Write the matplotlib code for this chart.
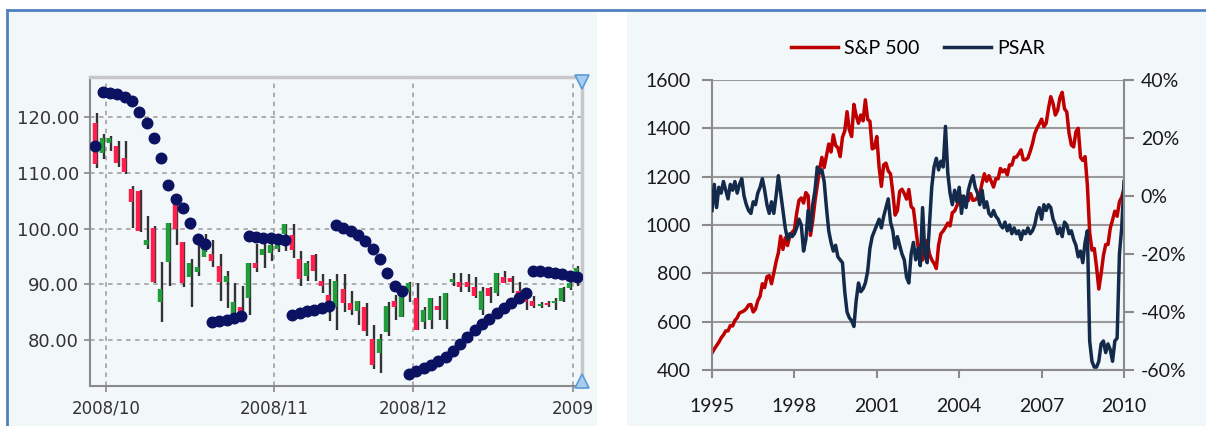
import numpy as np
import matplotlib.pyplot as plt
from matplotlib.patches import Rectangle
from matplotlib.lines import Line2D
from matplotlib.ticker import FuncFormatter

# ---- left panel: daily bars 2008/09/29 .. 2009/01/02 ----
opens = [119, 113.6, 115.4, 114.8, 112.7, 107.1, 106.8, 97.0, 100.2, 86.8,
         94, 104.7, 97.6, 91.3, 92.2, 95, 95.4, 93.3, 90.4, 84,
         85.9, 87.5, 93.9, 95.2, 95.7, 96.4, 99.1, 98.8, 94.5, 91.6,
         95.2, 90.7, 88.2, 85.9, 89.2, 86.6, 85.2, 85.9, 80.2, 77.7,
         81.5, 87.1, 84.1, 88.6, 87.5, 83.2, 83.6, 86.2, 83.6, 90.4,
         90.4, 90.4, 89.5, 85.4, 89.3, 88.4, 91.3, 91.2, 88.9, 88,
         87.1, 86.1, 86.7, 86.6, 87.1, 89.3, 90.7]
closes = [111.6, 116.3, 116.3, 111.8, 110.1, 104.7, 99.6, 97.9, 90.5, 89.2,
          101.1, 99.9, 90.3, 93.8, 93.1, 98, 94.3, 90.4, 91.6, 86.8,
          83.8, 93.9, 93, 96.3, 97, 97.4, 100.9, 96.1, 91, 93.9,
          92.5, 89.8, 85.7, 90.7, 86.6, 85.5, 87.1, 81.6, 75.5, 80.2,
          86.2, 86.0, 88.9, 90.2, 81.8, 85.4, 87.5, 85.4, 88.4, 91,
          89.5, 89.6, 88, 88.9, 88, 92, 90.2, 90.4, 88, 86.8,
          86.2, 86.5, 86.3, 87.1, 89.3, 90.2, 93]
highs = [120.8, 117, 116.6, 115.7, 115.7, 107.7, 106.9, 102.3, 100.4, 94,
         101.1, 105.4, 97.6, 94.6, 99, 99.1, 98, 95.5, 92.5, 90.2,
         89.8, 93.9, 97.2, 98, 97.9, 98.3, 100.9, 100.9, 96, 94.3,
         95.5, 91.8, 91, 91.8, 91.8, 88.9, 87.1, 86.6, 82.7, 81.2,
         86.9, 88.2, 88.9, 90.5, 90.2, 85.9, 87.5, 88, 88.4, 92.1,
         92.1, 91.8, 91.3, 89.5, 89.6, 92, 92.5, 91.6, 90.5, 88.6,
         88, 86.9, 87, 87.5, 89.5, 90.7, 93.4]
lows = [110.9, 112.5, 113.9, 111, 109.8, 100.2, 99.4, 96.4, 90.2, 83.3,
        89.8, 97, 89.5, 86, 91.5, 95.8, 93.1, 87.1, 85.7, 84,
        83.6, 84.5, 92.3, 93, 94.3, 95.8, 96, 94.8, 89.8, 90.7,
        90.7, 88.4, 83.5, 81.8, 85, 84.6, 82.8, 80.7, 74.8, 74.1,
        80.7, 83.6, 84.1, 86.8, 81.8, 82.1, 82.1, 83.6, 82.1, 89.8,
        88.6, 88.6, 87.5, 84.5, 86.6, 87.9, 90.2, 88.4, 87.3, 85.4,
        85.7, 85.8, 86, 85.4, 86.8, 89, 89.8]
sar = [114.8,
       124.6, 124.3, 124.1, 123.7, 122.9, 121.0, 119.0, 116.2, 112.6, 107.9,
       105.3, 103.8, 101.1, 98.2, 97.3,
       83.3, 83.5, 83.7, 84.0, 84.3,
       98.7, 98.6, 98.4, 98.3, 98.1, 97.9,
       84.6, 84.9, 85.2, 85.5, 85.8, 86.1,
       100.7, 100.2, 99.6, 98.8, 97.8, 96.4, 94.5, 92.0, 89.8, 88.8,
       74.0, 74.5, 75.0, 75.5, 76.2, 77.0, 78.0, 79.3, 80.6, 81.8, 82.9,
       83.9, 84.8, 85.7, 86.6, 87.5, 88.4,
       92.5, 92.4, 92.3, 92.1, 91.9, 91.6, 91.3]
month_labels = ['2008/10', '2008/11', '2008/12', '2009']
days_in_month = [2, 23, 19, 22, 1]   # trading days: Sep(tail), Oct, Nov, Dec, Jan

# ---- right panel: monthly, Jan 1995 .. Jan 2010 ----
spx = [470, 487, 501, 515, 533, 545, 562, 562, 584, 582, 605, 616,
       636, 640, 645, 654, 669, 671, 640, 652, 687, 705, 757, 741,
       786, 791, 757, 801, 848, 885, 954, 899, 947, 915, 955, 970,
       980, 1049, 1102, 1112, 1091, 1134, 1121, 957, 1017, 1099, 1164, 1229,
       1280, 1238, 1286, 1335, 1302, 1373, 1329, 1320, 1283, 1363, 1389, 1469,
       1394, 1366, 1499, 1452, 1421, 1455, 1431, 1518, 1437, 1429, 1315, 1320,
       1366, 1240, 1160, 1249, 1256, 1224, 1211, 1134, 1041, 1060, 1139, 1148,
       1130, 1107, 1147, 1076, 1067, 990, 912, 916, 855, 886, 936, 880,
       856, 841, 820, 917, 964, 975, 990, 1008, 996, 1051, 1058, 1080,
       1100, 1120, 1106, 1100, 1101, 1130, 1102, 1104, 1115, 1130, 1174, 1212,
       1181, 1204, 1181, 1157, 1192, 1191, 1234, 1220, 1229, 1207, 1249, 1248,
       1280, 1281, 1295, 1311, 1270, 1270, 1277, 1304, 1336, 1378, 1401, 1418,
       1438, 1407, 1421, 1482, 1531, 1503, 1455, 1474, 1527, 1549, 1481, 1468,
       1379, 1331, 1323, 1386, 1400, 1280, 1267, 1283, 1165, 969, 896, 903,
       826, 735, 798, 873, 919, 919, 987, 1021, 1057, 1036, 1096, 1115,
       1150]
psar = [-5, 4, -4, 3, 1, 5, 2, -1, 4, 2, 5, 1,
        4, 6, 0, -3, -5, -6, -2, -3, 1, 3, 6, 2,
        -3, -6, -2, -6, 0, 7, 1, -5, -11, -15, -13, -14,
        -13, -11, -8, -10, -19, -15, -5, -12, -3, 2, 10, 8,
        9, 5, -4, -12, -16, -19, -17, -21, -22, -23, -33, -40,
        -42, -43, -45, -36, -30, -33, -32, -30, -26, -18, -14, -12,
        -10, -8, -11, -7, -4, -1, -9, -12, -18, -14, -17, -20,
        -22, -28, -30, -20, -16, -22, -18, -24, -4, -20, -23, -10,
        3, 10, 13, 9, 12, 10, 24, 8, 1, -3, 2, -2,
        3, -6, 0, -4, 2, 5, 7, 3, 1, -3, 2, -4,
        -2, -6, -7, -5, -7, -8, -10, -11, -9, -12, -10, -13,
        -11, -13, -12, -15, -12, -13, -11, -13, -12, -10, -6, -4,
        -8, -3, -5, -3, -4, -8, -10, -13, -11, -14, -9, -10,
        -13, -12, -15, -17, -21, -19, -23, -16, -12, -50, -57, -59,
        -59, -57, -51, -50, -54, -51, -53, -57, -50, -49, -20, -11,
        5]
years = [1995, 1998, 2001, 2004, 2007, 2010]

W, H = 1206, 426
fig = plt.figure(figsize=(W / 100, H / 100), dpi=100)
fig.patch.set_facecolor('white')
panel_bg = '#f2f7fa'
fig.add_artist(Rectangle((7 / W, 0), 590 / W, 416 / H, transform=fig.transFigure,
                         facecolor=panel_bg, edgecolor='none', zorder=0))
fig.add_artist(Rectangle((627 / W, 0), 579 / W, 416 / H, transform=fig.transFigure,
                         facecolor=panel_bg, edgecolor='none', zorder=0))
fig.add_artist(Line2D([7 / W, 7 / W], [0, 416 / H], transform=fig.transFigure,
                      color='#4f81bd', lw=2))
fig.add_artist(Line2D([7 / W, 1], [416 / H, 416 / H], transform=fig.transFigure,
                      color='#4f81bd', lw=2))

# ---------------- left chart ----------------
ax1 = fig.add_axes([90 / W, 40 / H, 492 / W, 309 / H])
ax1.set_facecolor(panel_bg)
idx = np.arange(len(opens))
o = np.array(opens); c = np.array(closes)
col = np.where(c >= o, '#1f9e3a', '#ff1f4f')
ax1.vlines(idx + 0.18, lows, highs, color='#333333', lw=1.7, zorder=3)
ax1.vlines(idx - 0.12, np.minimum(o, c), np.maximum(o, c), color=col, lw=3.2, zorder=4)
ax1.plot(idx, sar, 'o', color='#0c1262', ms=7.6, zorder=5)

ax1.set_xlim(-0.75, 66.7)
ax1.set_ylim(71.8, 127.2)
ax1.set_yticks([80, 90, 100, 110, 120])
ax1.yaxis.set_major_formatter(FuncFormatter(lambda v, p: '%.2f' % v))
ticks = np.cumsum(days_in_month)[:-1] - 0.5
ax1.set_xticks(ticks)
ax1.set_xticklabels(month_labels)
ax1.grid(True, color='#a8a8a8', ls=(0, (2.5, 2.5)), lw=1.3)
ax1.tick_params(axis='both', colors='#888888', labelcolor='#333333', length=4, width=1.2,
                labelsize=12)
ax1.tick_params(axis='y', labelsize=13, pad=4)
ax1.tick_params(axis='x', pad=6)
for s in ['left', 'bottom']:
    ax1.spines[s].set_color('#8a8a8a')
    ax1.spines[s].set_linewidth(1.5)
for s in ['top', 'right']:
    ax1.spines[s].set_color('#c8c8c8')
    ax1.spines[s].set_linewidth(2.5)
# slider handles
ax1.plot([1.0], [0.985], marker='v', ms=10, color='#a9cdf0', mec='#5b9bd5', mew=1.2,
         transform=ax1.transAxes, clip_on=False, zorder=6)
ax1.plot([1.0], [0.015], marker='^', ms=10, color='#a9cdf0', mec='#5b9bd5', mew=1.2,
         transform=ax1.transAxes, clip_on=False, zorder=6)

# ---------------- right chart ----------------
ax2 = fig.add_axes([712 / W, 56 / H, 412 / W, 290 / H])
ax2.set_facecolor(panel_bg)
t = 1995 + np.arange(len(spx)) / 12.0
l1, = ax2.plot(t, spx, color='#c00000', lw=2.5, label='S&P 500')
ax3 = ax2.twinx()
l2, = ax3.plot(t, psar, color='#132a4a', lw=2.5, label='PSAR')
ax2.set_xlim(1995, 2010)
ax2.set_ylim(400, 1600)
ax2.set_yticks(range(400, 1601, 200))
ax3.set_ylim(-60, 40)
ax3.set_yticks(range(-60, 41, 20))
ax3.yaxis.set_major_formatter(FuncFormatter(lambda v, p: '%d%%' % v))
ax2.set_xticks(years)
ax2.grid(True, axis='y', color='#9a9a9a', lw=1.5)
for a in (ax2, ax3):
    for s in a.spines.values():
        s.set_visible(False)
    a.tick_params(colors='#8a8a8a', labelcolor='#1a1a1a', labelsize=14, width=1.5)
    for lab in a.get_xticklabels() + a.get_yticklabels():
        lab.set_family('Lato')
ax2.spines['left'].set_visible(True)
ax2.spines['left'].set_color('#8a8a8a')
ax2.spines['left'].set_linewidth(1.5)
ax2.spines['bottom'].set_visible(True)
ax2.spines['bottom'].set_color('#8a8a8a')
ax2.spines['bottom'].set_linewidth(1.5)
ax3.spines['right'].set_visible(True)
ax3.spines['right'].set_color('#8a8a8a')
ax3.spines['right'].set_linewidth(1.5)
ax2.tick_params(axis='y', length=7, pad=8)
ax2.tick_params(axis='x', length=6, pad=14)
ax3.tick_params(axis='y', length=7, pad=5)
leg = ax2.legend(handles=[l1, l2], loc='lower center', bbox_to_anchor=(0.5, 1.02), ncol=2,
                 frameon=False, prop={'family': 'Lato', 'size': 14}, handlelength=2.4,
                 columnspacing=1.3, handletextpad=0.3)

fig.savefig('out.png', dpi=100, facecolor='white')
